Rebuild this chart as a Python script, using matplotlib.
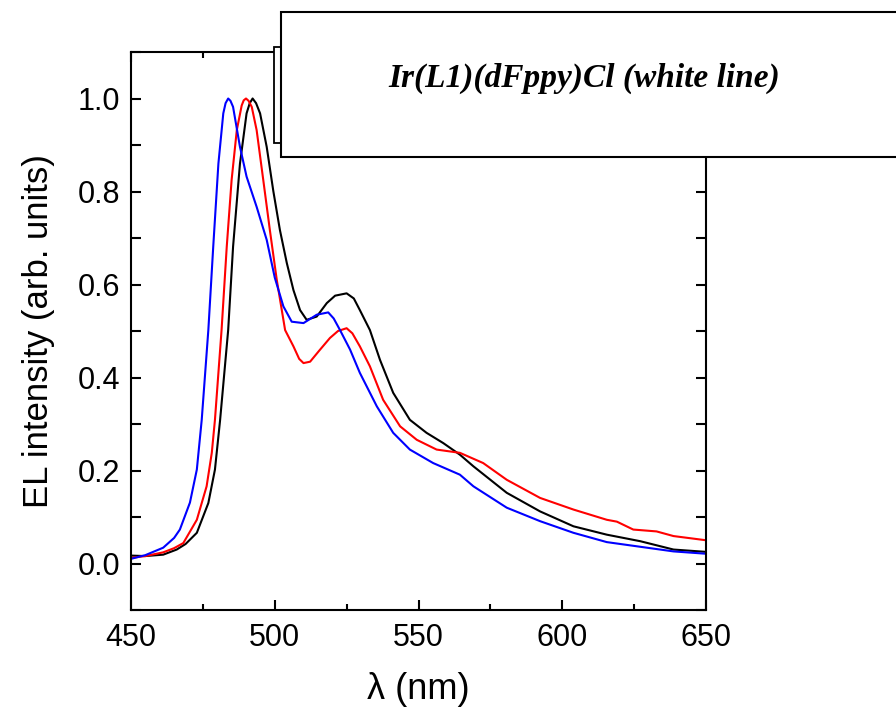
import matplotlib
matplotlib.use("Agg")
import matplotlib.pyplot as plt
from matplotlib.patches import Rectangle
from matplotlib.ticker import MultipleLocator

# Spectres EL
wl_blue = [450, 455, 461.2, 465, 467, 470.5, 472.9, 474.6, 476.9, 478.6, 480.4, 482.1,
           482.9, 483.8, 484.6, 485.5, 487.9, 490.2, 493.7, 497.2, 500.0, 503.0, 505.9,
           510, 514.6, 518.6, 520.5, 522.7, 526.2, 529.6, 535.5, 541.2, 547.0, 555.1,
           564.4, 569.1, 580.7, 592.3, 603.9, 615.5, 627.1, 638.7, 650]
el_blue = [0.010, 0.018, 0.034, 0.055, 0.073, 0.131, 0.202, 0.309, 0.502, 0.681, 0.860, 0.968,
           0.990, 1.000, 0.995, 0.982, 0.896, 0.832, 0.767, 0.696, 0.615, 0.553, 0.520,
           0.517, 0.535, 0.540, 0.527, 0.502, 0.460, 0.410, 0.338, 0.281, 0.245, 0.216,
           0.191, 0.166, 0.120, 0.091, 0.066, 0.046, 0.036, 0.026, 0.021]

wl_red = [450, 455, 461.2, 465, 468.2, 472.9, 476.3, 478.1, 479.2, 481.5, 483.3, 485.0,
          486.8, 488.5, 489.2, 490.0, 490.9, 492.0, 493.7, 496.0, 498.3, 500.7, 503.6,
          506.5, 508.5, 510, 512.3, 515.5, 519.2, 522, 525, 527, 529.6, 533.1, 537.7,
          543.6, 549.4, 556.3, 564.4, 572.5, 580.7, 592.3, 603.9, 615.5, 619, 624.7,
          632.8, 638.7, 650]
el_red = [0.012, 0.016, 0.024, 0.033, 0.044, 0.094, 0.166, 0.238, 0.309, 0.502, 0.681, 0.825,
          0.932, 0.985, 0.996, 1.000, 0.995, 0.982, 0.932, 0.825, 0.717, 0.610, 0.502,
          0.467, 0.440, 0.431, 0.434, 0.458, 0.485, 0.500, 0.506, 0.495, 0.467, 0.424, 0.352,
          0.295, 0.266, 0.245, 0.238, 0.216, 0.180, 0.141, 0.116, 0.094, 0.090, 0.073,
          0.069, 0.059, 0.050]

wl_black = [450, 455, 461.2, 465.9, 469, 472.9, 476.9, 479.2, 481.0, 483.8, 485.5, 487.9,
            490.2, 491.3, 492.3, 493.5, 494.9, 497.2, 499.5, 501.8, 504.2, 506.5, 508.8,
            511.1, 514.6, 518.1, 521, 525, 527.5, 529.6, 533.1, 536.6, 541.2, 547.0, 552.8,
            558.6, 564.4, 569.1, 580.7, 592.3, 603.9, 615.5, 627.1, 638.7, 650]
el_black = [0.017, 0.016, 0.019, 0.030, 0.042, 0.066, 0.130, 0.202, 0.309, 0.502, 0.681, 0.860,
            0.968, 0.990, 1.000, 0.990, 0.968, 0.896, 0.801, 0.717, 0.646, 0.588, 0.545,
            0.524, 0.531, 0.560, 0.576, 0.581, 0.570, 0.545, 0.502, 0.438, 0.367, 0.309, 0.281,
            0.259, 0.234, 0.209, 0.152, 0.112, 0.080, 0.062, 0.048, 0.030, 0.025]

box_title = "Ir(L1)(dFppy)Cl (white line)"

plt.rcParams['font.family'] = ['Liberation Sans', 'DejaVu Sans']

fig = plt.figure(figsize=(8.96, 7.11), dpi=100)
ax = fig.add_axes([131/896, 1-610/711, 575/896, 558/711])

ax.plot(wl_black, el_black, color='black', lw=1.5)
ax.plot(wl_red, el_red, color='red', lw=1.5)
ax.plot(wl_blue, el_blue, color='blue', lw=1.5)

ax.set_xlim(450, 650)
ax.set_ylim(-0.1, 1.1)
ax.xaxis.set_major_locator(MultipleLocator(50))
ax.xaxis.set_minor_locator(MultipleLocator(25))
ax.yaxis.set_minor_locator(MultipleLocator(0.1))
ax.set_yticks([0.0, 0.2, 0.4, 0.6, 0.8, 1.0])
ax.set_yticklabels(["0.0", "0.2", "0.4", "0.6", "0.8", "1.0"])

ax.tick_params(which='both', direction='in', top=True, right=True, width=1.5, labelsize=22)
ax.tick_params(axis='x', which='major', length=7.5, pad=9)
ax.tick_params(axis='x', which='minor', length=4)
ax.tick_params(axis='y', which='both', length=7.5, pad=8)
for sp in ax.spines.values():
    sp.set_linewidth(1.5)

ax.set_xlabel("λ (nm)", fontsize=26, labelpad=14)
ax.set_ylabel("EL intensity (arb. units)", fontsize=25, labelpad=16)

# cadres par-dessus l'axe
small = Rectangle((274/896, 1-143/711), 7/896, 96/711, transform=fig.transFigure,
                  facecolor='white', edgecolor='black', lw=1.3, zorder=5)
big = Rectangle((281/896, 1-157/711), 640/896, 145/711, transform=fig.transFigure,
                facecolor='white', edgecolor='black', lw=1.5, zorder=6, clip_on=False)
fig.patches.extend([small, big])
fig.text(584/896, 1-78/711, box_title, ha='center', va='center', fontsize=24,
         family='Liberation Serif', weight='bold', style='italic', zorder=7)

fig.savefig('out.png', dpi=100)
